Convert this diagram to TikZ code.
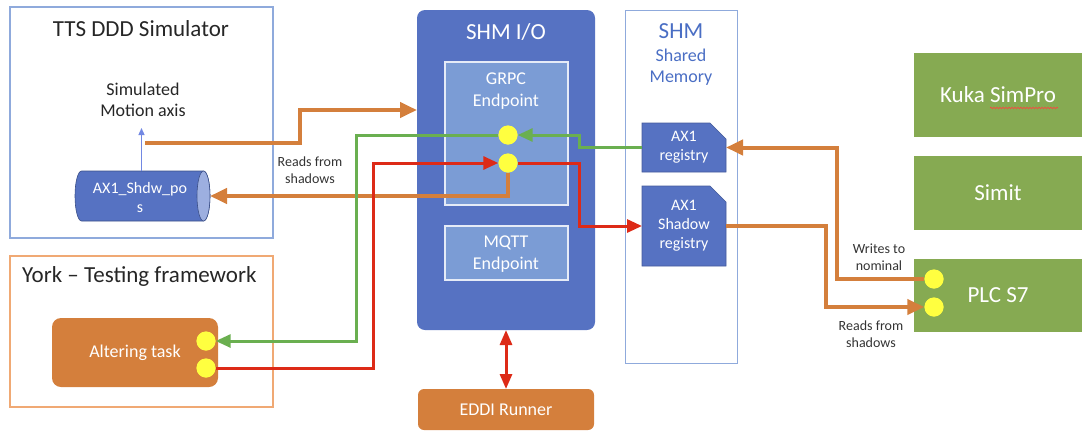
\documentclass[tikz,border=0pt]{standalone}
\usepackage{fontspec}
\setmainfont{Carlito}
\usetikzlibrary{arrows.meta,shapes.geometric,shapes.misc,decorations.pathmorphing}

\definecolor{ioblue}{HTML}{5672C2}
\definecolor{endblue}{HTML}{9DAFE0}
\definecolor{epblue}{HTML}{7B9CD5}
\definecolor{frameblue}{HTML}{8FAADC}
\definecolor{shmtext}{HTML}{4A6EC4}
\definecolor{oline}{HTML}{D47F3C}
\definecolor{oframe}{HTML}{F0A974}
\definecolor{gline}{HTML}{6AAF50}
\definecolor{rline}{HTML}{DD2A17}
\definecolor{ggreen}{HTML}{86AA52}
\definecolor{dotyellow}{HTML}{FFFF40}
\definecolor{labeltext}{HTML}{333333}

\begin{document}
\begin{tikzpicture}[x=1pt,y=-1pt,
  frame/.style={draw, line width=1.3pt, inner sep=0, outer sep=0, anchor=north west},
  panel/.style={inner sep=0, outer sep=0, anchor=north west, draw=none},
  ttl/.style={inner sep=0, font=\fontsize{23}{27}\selectfont, text=black!85},
  t18/.style={inner sep=0, align=center, font=\fontsize{18}{21.5}\selectfont},
  t16/.style={inner sep=0, align=center, font=\fontsize{16}{19}\selectfont},
  t14/.style={inner sep=0, align=center, font=\fontsize{14}{16.5}\selectfont, text=labeltext},
  port/.style={circle, fill=dotyellow, draw=none, minimum size=19pt, inner sep=0},
  regbox/.style={chamfered rectangle, chamfered rectangle corners=north east,
    chamfered rectangle sep=8pt, fill=ioblue, draw=ioblue!80!black, line width=0.6pt,
    minimum width=84pt, inner sep=0, outer sep=0, anchor=north west, text=white,
    align=center, font=\fontsize{16}{19}\selectfont},
  owire/.style={draw=oline, line width=4pt, -{Triangle[length=17pt,width=15pt]}},
  gwire/.style={draw=gline, line width=3pt, -{Triangle[length=15pt,width=13pt]}},
  rwire/.style={draw=rline, line width=3pt, -{Triangle[length=15pt,width=13pt]}},
]
\useasboundingbox (0,0) rectangle (1082,432);

% outer frames
\node[frame, draw=frameblue, minimum width=263pt, minimum height=231pt] (simframe) at (10,7) {};
\node[frame, draw=oframe, minimum width=263pt, minimum height=151pt] (yorkframe) at (10,256) {};
\node[frame, draw=frameblue, line width=1pt, minimum width=112pt, minimum height=353pt] (shmframe) at (625,10) {};

% SHM I/O block with its endpoints
\node[panel, fill=ioblue, rounded corners=8pt, minimum width=178pt, minimum height=320pt] (shmio) at (417,10) {};
\node[frame, draw=white!80!epblue, fill=epblue, line width=1.5pt, minimum width=123pt, minimum height=143pt] (grpc) at (445,62) {};
\node[frame, draw=white!80!epblue, fill=epblue, line width=1.5pt, minimum width=123pt, minimum height=54pt] (mqtt) at (445,226) {};

% runner and task boxes
\node[panel, fill=oline, rounded corners=6pt, minimum width=176pt, minimum height=41pt,
  text=white, font=\fontsize{18}{21.5}\selectfont] (eddi) at (418,389) {EDDI Runner};
\node[panel, fill=oline, rounded corners=9pt, minimum width=166pt, minimum height=69pt,
  text=white, font=\fontsize{18}{21.5}\selectfont] (alter) at (52,318) {Altering task};

% external tools
\node[panel, fill=ggreen, minimum width=168pt, minimum height=84pt, text=white,
  font=\fontsize{23}{27}\selectfont] (kuka) at (914,53) {Kuka SimPro};
\node[panel, fill=ggreen, minimum width=168pt, minimum height=74pt, text=white,
  font=\fontsize{23}{27}\selectfont] (simit) at (914,156) {Simit};
\node[panel, fill=ggreen, minimum width=168pt, minimum height=73pt, text=white,
  font=\fontsize{23}{27}\selectfont] (plc) at (914,259) {PLC S7};
\draw[red!75, line width=0.6pt, decorate, decoration={snake, amplitude=0.8pt, segment length=3pt}]
  (990,108) -- (1058,108);

% registries in shared memory
\node[regbox, minimum height=49pt] (reg) at (642,123) {AX1\\registry};
\node[regbox, minimum height=80pt] (shreg) at (642,186) {AX1\\Shadow\\registry};

% shadow position store: a horizontal cylinder drawn round its bounding node
\node[panel, minimum width=135pt, minimum height=50pt] (cyl) at (75,171) {};
\filldraw[fill=ioblue, draw=ioblue!70!black, line width=0.6pt]
  ([xshift=6.5pt]cyl.north west) arc[start angle=90, end angle=270, x radius=6.5pt, y radius=25pt]
  -- ([xshift=-6.5pt]cyl.south east) arc[start angle=270, end angle=450, x radius=6.5pt, y radius=25pt]
  -- cycle;
\filldraw[fill=endblue, draw=ioblue!70!black, line width=0.6pt]
  ([xshift=-6.5pt]cyl.east) ellipse[x radius=6.5pt, y radius=25pt];
\node[t16, text=white] (cyltext) at (140,197) {AX1\_Shdw\_po\\s};

% texts
\node[ttl] (simtitle) at (141,29) {TTS DDD Simulator};
\node[t18, text=black!85] (motion) at (143,100) {Simulated\\Motion axis};
\node[ttl, anchor=west] (yorktitle) at (22,276) {York -- Testing framework};
\node[ttl, text=white] (iotitle) at (506,32) {SHM I/O};
\node[t18, text=white] (grpctext) at (506,91) {GRPC\\Endpoint};
\node[t18, text=white] (mqtttext) at (506,254) {MQTT\\Endpoint};
\node[ttl, text=shmtext] (shmtitle) at (681,31) {SHM};
\node[t18, text=shmtext] (shmsub) at (681,67) {Shared\\Memory};
\node[t14] (lblreadsl) at (310,170) {Reads from\\shadows};
\node[t14] (lblwrites) at (879,257) {Writes to\\nominal};
\node[t14] (lblreadsr) at (871,334) {Reads from\\shadows};

% ports
\node[port] (g1) at (508,135) {};
\node[port] (g2) at (508,163) {};
\node[port] (a1) at (206,341) {};
\node[port] (a2) at (206,368) {};
\node[port] (p1) at (934,279) {};
\node[port] (p2) at (934,307) {};

\coordinate (motionout) at (145,143);
\coordinate (ioin) at (417,110);

% simulated axis fed from the shadow store
\draw[draw=frameblue!80!blue, line width=1.2pt, -{Triangle[length=7pt,width=6pt]}]
  ([xshift=-1pt]cyl.north) -- ++(0,-43);

% connectors
\draw[owire] (motionout) -- ++(155,0) |- (ioin);
\draw[owire] (g2.south) |- (cyl.east);
\draw[gwire] (reg.west) -- ++(-63,0) |- (g1.east);
\draw[gwire] (g1.west) -- ++(-142,0) |- (a1.east);
\draw[rwire] (a2.east) -- ++(158,0) |- (g2.west);
\draw[rwire] (g2.east) -- ++(62,0) |- (shreg.west);
\draw[owire] (p1.west) -- ++(-87,0) |- (reg.east);
\draw[owire] (shreg.east) -- ++(100,0) |- (p2.west);
\draw[draw=rline, line width=3pt, {Triangle[length=15pt,width=12pt]}-{Triangle[length=15pt,width=12pt]}]
  (shmio.south) -- (eddi.north);

% ports again on top of the wires
\foreach \p in {g1,g2,a1,a2,p1,p2} \fill[dotyellow] (\p) circle (9.5pt);
\end{tikzpicture}
\end{document}
